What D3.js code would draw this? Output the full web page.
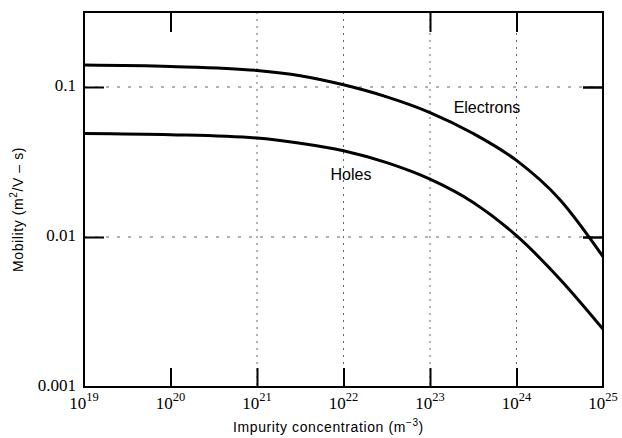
<!DOCTYPE html>
<html><head><meta charset="utf-8">
<script src="https://cdn.jsdelivr.net/npm/d3@7"></script>
<style>body{margin:0;background:#fff}svg{display:block}</style>
</head><body>
<script>
const logN = [19, 20, 21, 21.5, 22, 22.5, 23, 23.5, 24, 24.5, 25];
const electrons = [0.140, 0.137, 0.129, 0.119, 0.1035, 0.086, 0.0676, 0.049, 0.0324, 0.0178, 0.0074];
const holes = [0.049, 0.0481, 0.0457, 0.0422, 0.0376, 0.0313, 0.0243, 0.0170, 0.0102, 0.00525, 0.00243];
const xTicks = [19, 20, 21, 22, 23, 24, 25];
const topTicks = [20, 23, 24];
const yTicks = [0.001, 0.01, 0.1];
const yTickLabels = ["0.001", "0.01", "0.1"];
const gridX = [21, 22, 23, 24];
const gridY = [0.01, 0.1];

(function () {
const W = 622, H = 438;
const m = {l: 84, r: 603, t: 12, b: 387};
const svg = d3.select("body").append("svg").attr("width", W).attr("height", H);
const x = d3.scaleLinear().domain([19, 25]).range([m.l, m.r]);
const y = d3.scaleLog().domain([0.001, Math.pow(10, -0.5)]).range([m.b, m.t]);

// grid
svg.append("g").selectAll("line").data(gridX).join("line")
  .attr("x1", d => x(d)).attr("x2", d => x(d)).attr("y1", m.t).attr("y2", m.b)
  .attr("stroke", "#666").attr("stroke-width", 1).attr("stroke-dasharray", "2,5");
svg.append("g").selectAll("line").data(gridY).join("line")
  .attr("y1", d => y(d)).attr("y2", d => y(d)).attr("x1", m.l).attr("x2", m.r)
  .attr("stroke", "#666").attr("stroke-width", 1).attr("stroke-dasharray", "3,8");

// bottom axis (ticks drawn inward)
const bottomAx = svg.append("g").attr("transform", `translate(0,${m.b})`)
  .call(d3.axisBottom(x).tickValues(xTicks.slice(1, -1)).tickSize(-19).tickFormat(""));
bottomAx.select(".domain").remove();
bottomAx.selectAll(".tick line").attr("stroke", "#000").attr("stroke-width", 2);
const topAx = svg.append("g").attr("transform", `translate(0,${m.t})`)
  .call(d3.axisTop(x).tickValues(topTicks).tickSize(-20).tickFormat(""));
topAx.select(".domain").remove();
topAx.selectAll(".tick line").attr("stroke", "#000").attr("stroke-width", 2);

const xl = svg.append("g").selectAll("text").data(xTicks).join("text")
  .attr("x", d => x(d)).attr("y", 409)
  .attr("text-anchor", "middle")
  .attr("font-family", "Liberation Serif, serif").attr("font-size", 17).attr("fill", "#000");
xl.append("tspan").text("10");
xl.append("tspan").attr("dy", -8).attr("font-size", 12.5).text(d => d);

// left axis
const leftAx = svg.append("g").attr("transform", `translate(${m.l},0)`)
  .call(d3.axisLeft(y).tickValues(yTicks).tickSize(0).tickFormat((d, i) => yTickLabels[i]));
leftAx.select(".domain").remove();
leftAx.selectAll("text").attr("x", -8).attr("dy", "0.22em")
  .attr("font-family", "Liberation Serif, serif").attr("font-size", 17).attr("fill", "#000");
const leftT = svg.append("g").attr("transform", `translate(${m.l},0)`)
  .call(d3.axisLeft(y).tickValues(gridY).tickSize(-20).tickFormat(""));
leftT.select(".domain").remove();
leftT.selectAll(".tick line").attr("stroke", "#000").attr("stroke-width", 2);
const rightT = svg.append("g").attr("transform", `translate(${m.r},0)`)
  .call(d3.axisRight(y).tickValues(gridY).tickSize(-20).tickFormat(""));
rightT.select(".domain").remove();
rightT.selectAll(".tick line").attr("stroke", "#000").attr("stroke-width", 2.5);

// frame
svg.append("rect").attr("x", m.l).attr("y", m.t).attr("width", m.r - m.l).attr("height", m.b - m.t)
  .attr("fill", "none").attr("stroke", "#000").attr("stroke-width", 2);

// curves
const line = d3.line().x((d, i) => x(logN[i])).y(d => y(d)).curve(d3.curveMonotoneX);
[electrons, holes].forEach(s => {
  svg.append("path").datum(s).attr("d", line)
    .attr("fill", "none").attr("stroke", "#000").attr("stroke-width", 3);
});

// labels
const lab = (t, xx, yy) => svg.append("text").attr("x", xx).attr("y", yy).text(t)
  .attr("font-family", "Liberation Sans, Arial, sans-serif").attr("font-size", 16)
  .attr("fill", "#000").attr("text-anchor", "middle");
lab("Electrons", 487, 113);
lab("Holes", 351, 180);

// axis titles
const xt = svg.append("text").attr("x", 233).attr("y", 432)
  .attr("font-family", "Liberation Sans, Arial, sans-serif").attr("font-size", 14)
  .attr("letter-spacing", "0.6px").attr("fill", "#000");
xt.append("tspan").text("Impurity concentration (m");
xt.append("tspan").attr("dy", -6).attr("font-size", 10).text("−3");
xt.append("tspan").attr("dy", 6).text(")");

const yt = svg.append("text").attr("transform", "translate(23,272) rotate(-90)")
  .attr("font-family", "Liberation Sans, Arial, sans-serif").attr("font-size", 14)
  .attr("letter-spacing", "0.6px").attr("fill", "#000");
yt.append("tspan").text("Mobility (m");
yt.append("tspan").attr("dy", -6).attr("font-size", 10).text("2");
yt.append("tspan").attr("dy", 6).text("/V – s)");
})();
</script>
</body></html>
